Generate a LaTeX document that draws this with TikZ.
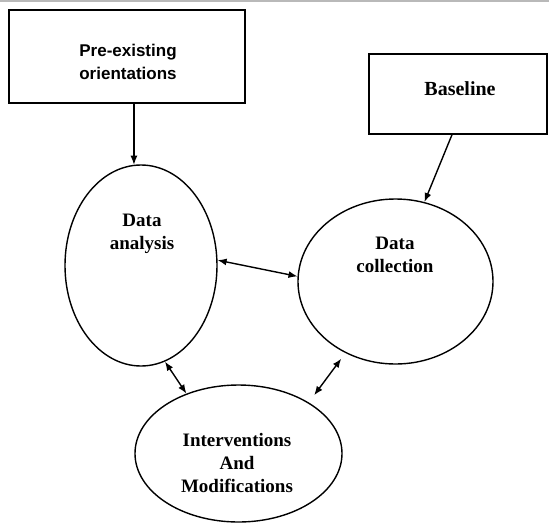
\documentclass[tikz,border=0pt]{standalone}
\usepackage{fontspec}
\setmainfont{Liberation Serif}
\newfontfamily\boxsans{Liberation Sans}
\usetikzlibrary{shapes.geometric,arrows.meta}
\tikzset{
  lw/.style={line width=1.4pt},
  boxnode/.style={draw, lw, rectangle, inner sep=0pt},
  ellnode/.style={draw, lw, ellipse, inner sep=0pt},
  lbl/.style={align=center, font=\bfseries\fontsize{19}{23}\selectfont, inner sep=0pt},
  arr/.style={lw, -{Latex[length=9pt,width=7pt]}},
  dbl/.style={lw, {Latex[length=9pt,width=7pt]}-{Latex[length=9pt,width=7pt]}}
}
\begin{document}
\begin{tikzpicture}[x=1pt,y=-1pt]
\useasboundingbox (0,0) rectangle (549,523);
% scan edge line at top
\draw[gray!55, line width=1.5pt] (0,1) -- (549,1);
% boxes
\node[boxnode, minimum width=236pt, minimum height=93pt] (pre) at (127,56.5) {};
\draw[lw] (pre.north west) -- ++(0,8);
\draw[lw] (pre.north east) -- ++(0,8);
\node[lbl, font=\boxsans\bfseries\fontsize{17}{23}\selectfont] (pret) at (128,62) {Pre-existing\\orientations};
\node[boxnode, minimum width=178pt, minimum height=80pt] (base) at (458,94) {};
\node[lbl, font=\bfseries\fontsize{20}{23}\selectfont] (baset) at (460,89) {Baseline};
% ellipses
\node[ellnode, minimum width=152pt, minimum height=201pt] (da) at (141,265.5) {};
\node[lbl] (dat) at (142,234) {Data\\analysis};
\node[ellnode, minimum width=195pt, minimum height=165pt] (dc) at (395.5,281.5) {};
\node[lbl] (dct) at (395,254.5) {Data\\collection};
\node[ellnode, minimum width=207pt, minimum height=137pt] (im) at (238.5,453.5) {};
\node[lbl] (imt) at (237,462.5) {Interventions\\And\\Modifications};
% connectors
\draw[arr] (pre.south -| da.94) -- (da.94);
\draw[arr] ([xshift=-6pt]base.south) -- (dc.70);
\draw[dbl] (da.4) -- (dc.177);
\draw[dbl] (da.-76) -- (im.131);
\draw[dbl, shorten <=7pt, shorten >=9pt] (dc.235) -- (im.36);
\end{tikzpicture}
\end{document}
